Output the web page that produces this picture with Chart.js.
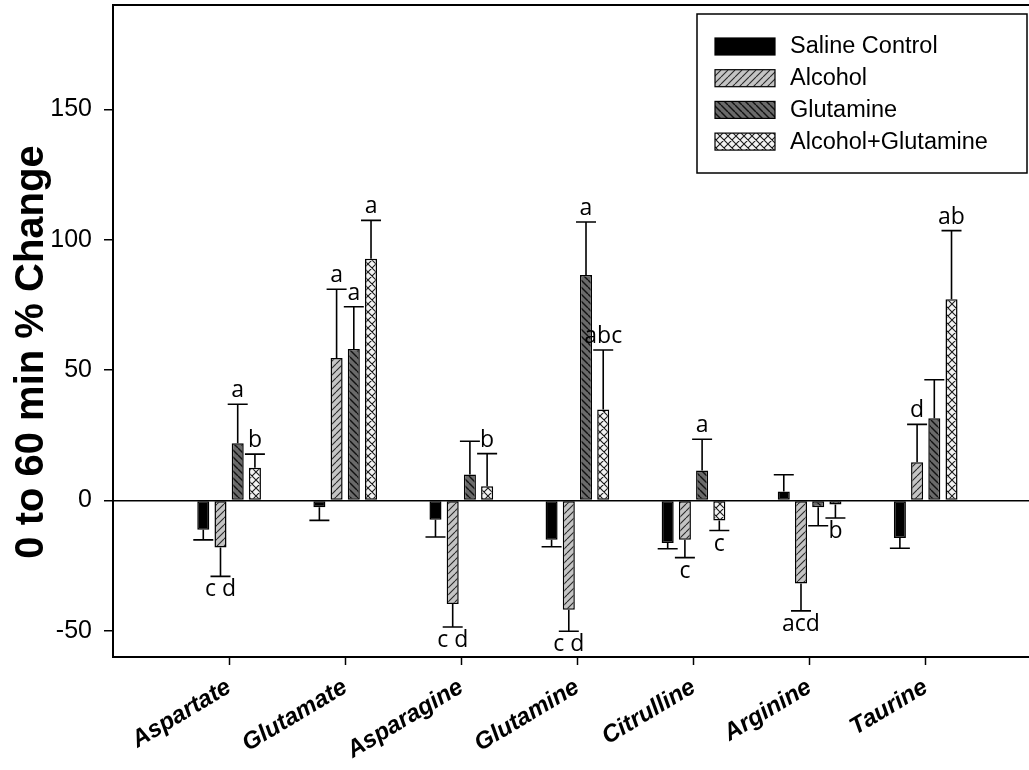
<!DOCTYPE html>
<html>
<head>
<meta charset="utf-8">
<script src="https://cdn.jsdelivr.net/npm/chart.js@4.4.1/dist/chart.umd.min.js"></script>
<style>
  html, body { margin: 0; padding: 0; background: #fff; overflow: hidden; }
  #wrap { width: 1029px; height: 770px; position: relative; }
</style>
</head>
<body>
<div id="wrap"><canvas id="c" width="1029" height="770"></canvas></div>
<script>
// Amino acids on the x axis
const categories = ['Aspartate', 'Glutamate', 'Asparagine', 'Glutamine', 'Citrulline', 'Arginine', 'Taurine'];
const seriesNames = ['Saline Control', 'Alcohol', 'Glutamine', 'Alcohol+Glutamine'];

// Mean % change (0 to 60 min) per group
const salineControl = [-11.2, -2.6, -7.4, -15.0, -16.3, 3.5, -14.4];
const alcohol = [-18.0, 54.6, -39.7, -41.9, -15.0, -31.8, 14.7];
const glutamine = [22.0, 58.1, 10.0, 86.5, 11.5, -2.6, 31.5];
const alcoholGlutamine = [12.6, 92.7, 5.5, 34.9, -7.7, -1.5, 77.2];

// Standard errors (drawn one-sided, away from zero)
const salineSE = [3.9, 5.0, 6.6, 2.7, 2.2, 6.4, 3.9];
const alcoholSE = [11.1, 26.4, 8.8, 8.2, 6.9, 10.5, 14.5];
const glutamineSE = [14.9, 16.2, 12.7, 20.3, 12.0, 7.1, 14.8];
const alcoholGlutamineSE = [5.2, 14.7, 12.5, 22.8, 3.8, 5.2, 26.3];

// Significance letters
const salineLetters = ['', '', '', '', '', '', ''];
const alcoholLetters = ['c d', 'a', 'c d', 'c d', 'c', 'acd', 'd'];
const glutamineLetters = ['a', 'a', '', 'a', 'a', '', ''];
const alcoholGlutamineLetters = ['b', 'a', 'b', 'abc', 'c', 'b', 'ab'];

// Y axis range and tick labels
const yMin = -60, yMax = 190;
const yTickValues = [-50, 0, 50, 100, 150];

// ---- fill patterns ----
function hatchPattern(bg, line, lw, size, dirs) {
  const c = document.createElement('canvas');
  c.width = c.height = size;
  const g = c.getContext('2d');
  g.fillStyle = bg;
  g.fillRect(0, 0, size, size);
  g.strokeStyle = line;
  g.lineWidth = lw;
  g.beginPath();
  for (let k = -1; k <= 1; k++) {
    if (dirs.includes('/')) { g.moveTo(k * size, size); g.lineTo(k * size + size, 0); }
    if (dirs.includes('\\')) { g.moveTo(k * size, 0); g.lineTo(k * size + size, size); }
  }
  g.stroke();
  return g.createPattern(c, 'repeat');
}
const ctx = document.getElementById('c').getContext('2d');
const fills = [
  '#000000',
  hatchPattern('#c4c4c4', '#2a2a2a', 1.1, 7, '/'),
  hatchPattern('#6a6a6a', '#111111', 1.4, 7, '\\'),
  hatchPattern('#f2f2f2', '#1a1a1a', 1.1, 8, '/\\')
];

const seriesValues = [salineControl, alcohol, glutamine, alcoholGlutamine];
const seriesSE = [salineSE, alcoholSE, glutamineSE, alcoholGlutamineSE];
const seriesLetters = [salineLetters, alcoholLetters, glutamineLetters, alcoholGlutamineLetters];

const datasets = seriesNames.map((name, s) => ({
  label: name,
  data: seriesValues[s].map((v, i) => ({ x: i + 1, y: v })),
  se: seriesSE[s],
  letters: seriesLetters[s],
  backgroundColor: fills[s],
  borderColor: '#000',
  borderWidth: 1.5,
  borderSkipped: false,
  categoryPercentage: 0.593,
  barPercentage: 0.7
}));

const SANS = '"Liberation Sans", Arial, sans-serif';
const LETTER_FONT = '23px "Open Sans", "Noto Sans", sans-serif';

// Error bars with caps, plus significance letters
const errorBars = {
  id: 'errorBars',
  afterDatasetsDraw(chart) {
    const g = chart.ctx;
    const y = chart.scales.y;
    g.save();
    g.strokeStyle = '#000';
    g.lineWidth = 1.6;
    g.fillStyle = '#000';
    g.font = LETTER_FONT;
    g.textAlign = 'center';
    chart.data.datasets.forEach((ds, di) => {
      const meta = chart.getDatasetMeta(di);
      meta.data.forEach((bar, i) => {
        const v = ds.data[i].y;
        const dir = v >= 0 ? 1 : -1;
        const yEnd = y.getPixelForValue(v + dir * ds.se[i]);
        g.beginPath();
        g.moveTo(bar.x, bar.y);
        g.lineTo(bar.x, yEnd);
        g.moveTo(bar.x - 10, yEnd);
        g.lineTo(bar.x + 10, yEnd);
        g.stroke();
        const t = ds.letters[i];
        if (t) {
          if (dir > 0) { g.textBaseline = 'alphabetic'; g.fillText(t, bar.x, yEnd - 7); }
          else { g.textBaseline = 'top'; g.fillText(t, bar.x, yEnd + 2); }
        }
      });
    });
    g.restore();
  }
};

// Top edge of the plot frame
const frameTop = {
  id: 'frameTop',
  afterDraw(chart) {
    const a = chart.chartArea, g = chart.ctx;
    g.save();
    g.strokeStyle = '#000';
    g.lineWidth = 2;
    g.beginPath();
    g.moveTo(a.left, a.top);
    g.lineTo(a.right, a.top);
    g.stroke();
    g.restore();
  }
};

// Y axis title
const yTitle = {
  id: 'yTitle',
  afterDraw(chart) {
    const g = chart.ctx;
    g.save();
    g.translate(32, 352);
    g.rotate(-Math.PI / 2);
    g.font = 'bold 40px ' + SANS;
    g.fillStyle = '#000';
    g.textAlign = 'center';
    g.textBaseline = 'middle';
    g.fillText('0 to 60 min % Change', 0, 0);
    g.restore();
  }
};

// Boxed legend inside the plot
const boxLegend = {
  id: 'boxLegend',
  afterDraw(chart) {
    const g = chart.ctx;
    const box = { x: 697, y: 14, w: 330, h: 159 };
    g.save();
    g.fillStyle = '#fff';
    g.fillRect(box.x, box.y, box.w, box.h);
    g.strokeStyle = '#000';
    g.lineWidth = 1.5;
    g.strokeRect(box.x, box.y, box.w, box.h);
    g.font = '23.5px ' + SANS;
    g.textBaseline = 'middle';
    g.textAlign = 'left';
    chart.data.datasets.forEach((ds, i) => {
      const top = 38 + i * 31.7;
      g.fillStyle = ds.backgroundColor;
      g.fillRect(715, top, 60, 17);
      g.lineWidth = 1.2;
      g.strokeStyle = '#000';
      g.strokeRect(715, top, 60, 17);
      g.fillStyle = '#000';
      g.fillText(ds.label, 790, top + 9);
    });
    g.restore();
  }
};

const pxPerCategory = 116.1;
const plotLeft = 113;

new Chart(ctx, {
  type: 'bar',
  data: { datasets },
  options: {
    responsive: false,
    animation: false,
    layout: { padding: { left: 0, top: 5, right: 0, bottom: 0 } },
    plugins: { legend: { display: false }, tooltip: { enabled: false } },
    scales: {
      x: {
        type: 'linear',
        position: 'bottom',
        offset: false,
        min: 0,
        max: (1029 - plotLeft) / pxPerCategory,
        afterBuildTicks: s => { s.ticks = categories.map((_, i) => ({ value: i + 1 })); },
        afterFit: s => { s.height = 113; s.paddingLeft = 0; s.paddingRight = 0; },
        ticks: {
          autoSkip: false,
          minRotation: 31,
          maxRotation: 31,
          padding: 8,
          color: '#000',
          font: { family: SANS, size: 24, weight: 'bold', style: 'italic' },
          callback: v => categories[Math.round(v) - 1] || ''
        },
        grid: { display: true, offset: false, drawOnChartArea: false, drawTicks: true, tickLength: 8, tickColor: '#000', tickWidth: 1.5 },
        border: { display: true, color: '#000', width: 2 }
      },
      y: {
        min: yMin,
        max: yMax,
        afterBuildTicks: s => { s.ticks = yTickValues.map(v => ({ value: v })); },
        afterFit: s => { s.width = plotLeft; s.paddingTop = 0; s.paddingBottom = 0; },
        ticks: {
          padding: 12,
          color: '#000',
          font: { family: SANS, size: 25 }
        },
        grid: {
          drawOnChartArea: true,
          color: c => (c.tick && c.tick.value === 0 ? '#000' : 'rgba(0,0,0,0)'),
          lineWidth: 1.5,
          tickColor: '#000',
          tickLength: 9,
          tickWidth: 1.5
        },
        border: { display: true, color: '#000', width: 2 }
      }
    }
  },
  plugins: [errorBars, frameTop, yTitle, boxLegend]
});
</script>
</body>
</html>
